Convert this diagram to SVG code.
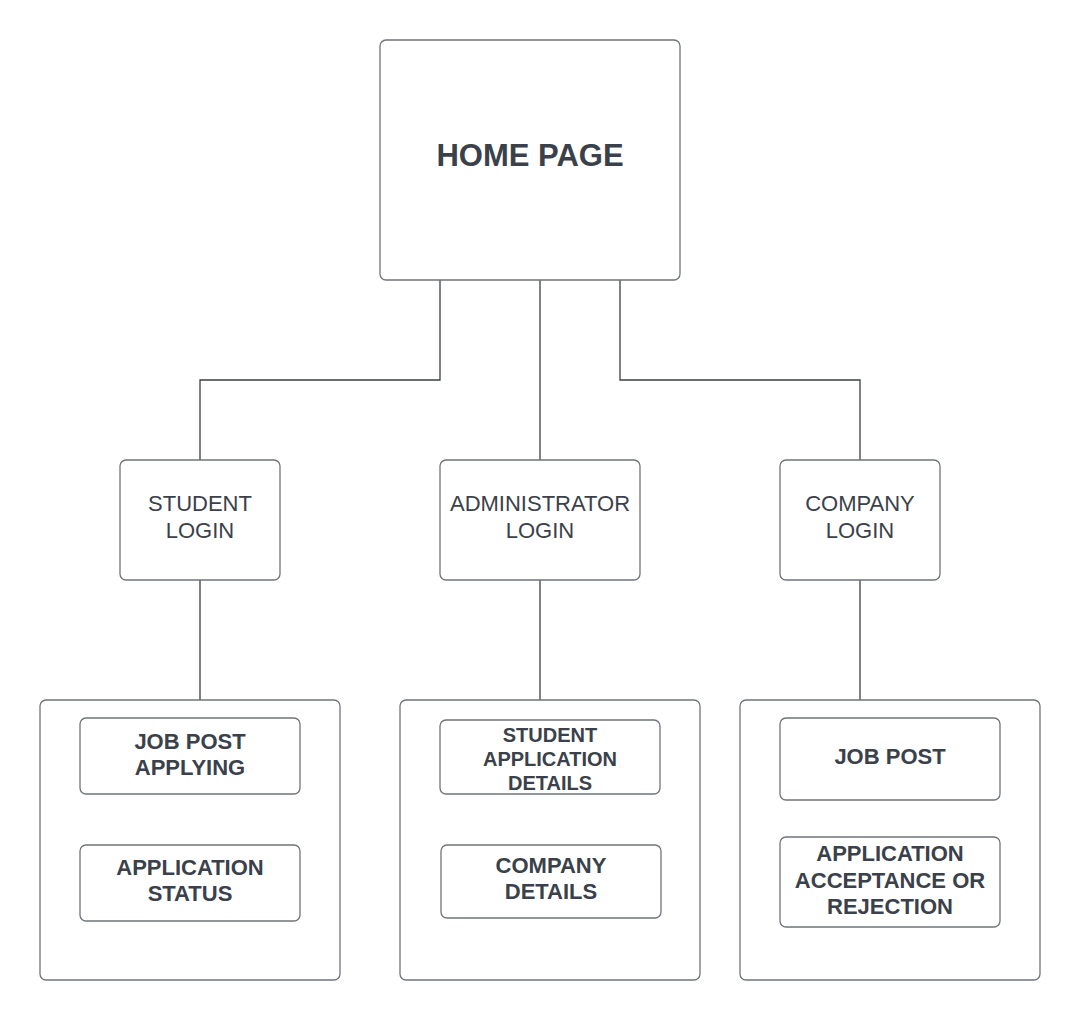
<svg xmlns="http://www.w3.org/2000/svg" width="1080" height="1020" viewBox="0 0 1080 1020">
<style>
.box{fill:#fff;stroke:#6f747b;stroke-width:1.3}
.ln{fill:none;stroke:#3a3f46;stroke-width:1.3}
.t{font-family:"Liberation Sans",Arial,sans-serif;fill:#3a414a;text-anchor:middle}
.b{font-weight:bold;font-size:22px}
.s{font-weight:bold;font-size:20px}
.r{font-size:22px}
.h{font-weight:bold;font-size:31px}
</style>
<rect width="1080" height="1020" fill="#fff"/>
<g id="connectors">
<path class="ln" d="M440 280V380H200V460"/>
<path class="ln" d="M540 280V460"/>
<path class="ln" d="M620 280V380H860V460"/>
<path class="ln" d="M200 580V700"/>
<path class="ln" d="M540 580V700"/>
<path class="ln" d="M860 580V700"/>
</g>
<g id="home"><rect class="box" x="380" y="40" width="300" height="240" rx="6"/><text class="t h" x="530" y="166">HOME PAGE</text></g>
<g id="student-login"><rect class="box" x="120" y="460" width="160" height="120" rx="6"/><text class="t r" x="200" y="511">STUDENT</text><text class="t r" x="200" y="538">LOGIN</text></g>
<g id="admin-login"><rect class="box" x="440" y="460" width="200" height="120" rx="6"/><text class="t r" x="540" y="511">ADMINISTRATOR</text><text class="t r" x="540" y="538">LOGIN</text></g>
<g id="company-login"><rect class="box" x="780" y="460" width="160" height="120" rx="6"/><text class="t r" x="860" y="511">COMPANY</text><text class="t r" x="860" y="538">LOGIN</text></g>
<g id="student-group"><rect class="box" x="40" y="700" width="300" height="280" rx="6"/></g>
<g id="admin-group"><rect class="box" x="400" y="700" width="300" height="280" rx="6"/></g>
<g id="company-group"><rect class="box" x="740" y="700" width="300" height="280" rx="6"/></g>
<g id="job-post-applying"><rect class="box" x="80" y="718" width="220" height="76" rx="6"/><text class="t b" x="190" y="749">JOB POST</text><text class="t b" x="190" y="775">APPLYING</text></g>
<g id="application-status"><rect class="box" x="80" y="845" width="220" height="76" rx="6"/><text class="t b" x="190" y="875">APPLICATION</text><text class="t b" x="190" y="901">STATUS</text></g>
<g id="student-application-details"><rect class="box" x="440" y="720" width="220" height="74" rx="6"/><text class="t s" x="550" y="742">STUDENT</text><text class="t s" x="550" y="766">APPLICATION</text><text class="t s" x="550" y="790">DETAILS</text></g>
<g id="company-details"><rect class="box" x="441" y="845" width="220" height="73" rx="6"/><text class="t b" x="551" y="873">COMPANY</text><text class="t b" x="551" y="899">DETAILS</text></g>
<g id="job-post"><rect class="box" x="780" y="718" width="220" height="82" rx="6"/><text class="t b" x="890" y="764">JOB POST</text></g>
<g id="application-acceptance"><rect class="box" x="780" y="837" width="220" height="90" rx="6"/><text class="t b" x="890" y="861">APPLICATION</text><text class="t b" x="890" y="888">ACCEPTANCE OR</text><text class="t b" x="890" y="914">REJECTION</text></g>
</svg>
